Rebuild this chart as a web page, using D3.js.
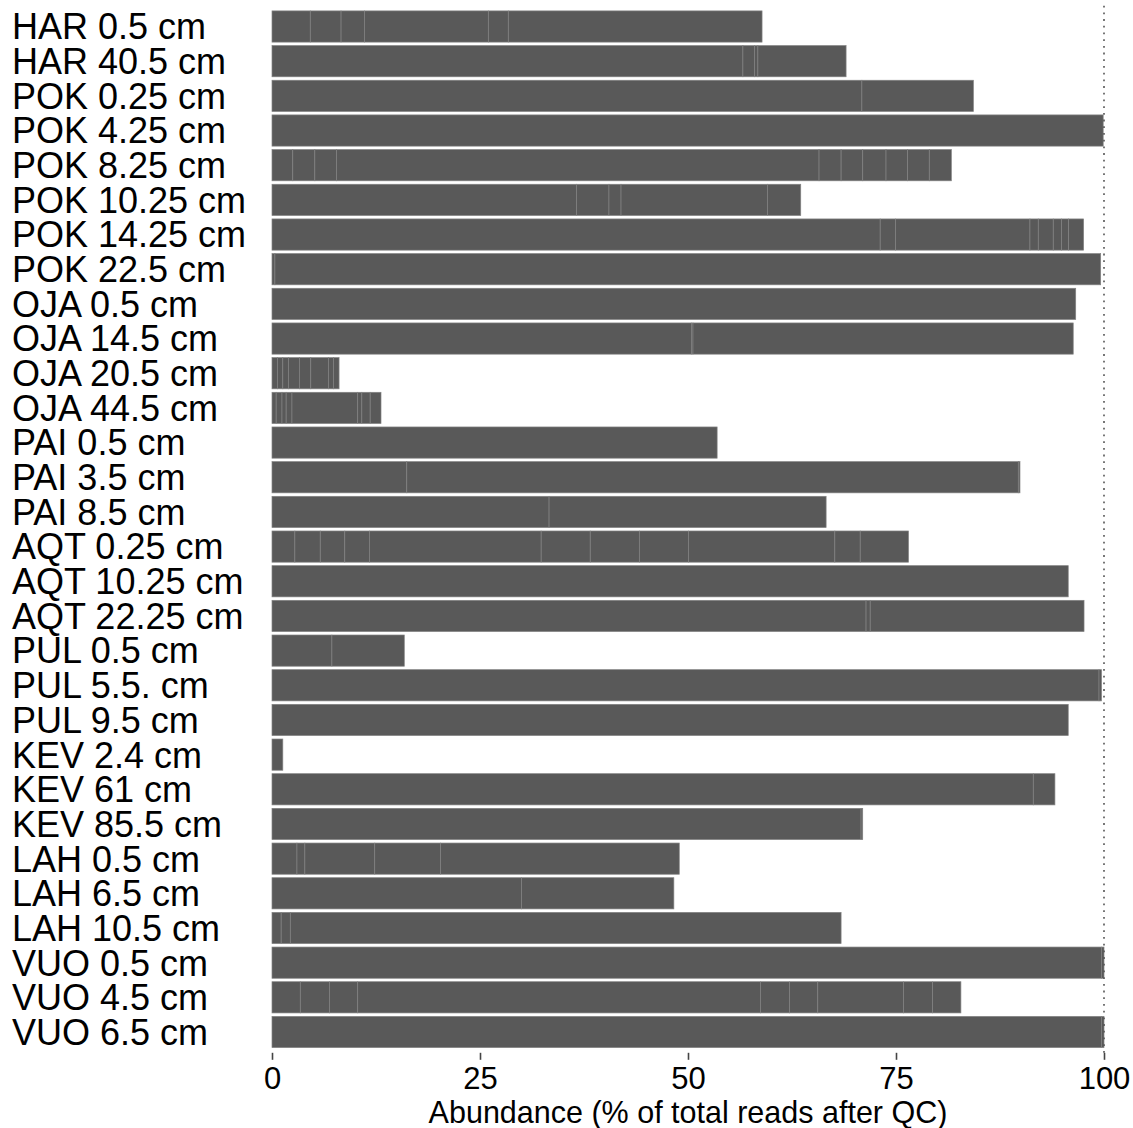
<!DOCTYPE html>
<html>
<head>
<meta charset="utf-8">
<script src="https://cdn.jsdelivr.net/npm/d3@7"></script>
<style>
  html, body { margin: 0; padding: 0; background: #fff; }
  svg { display: block; }
</style>
</head>
<body>
<svg id="chart" width="1133" height="1128"></svg>
<script>
// Sample labels (site + sediment depth), top to bottom
const samples = [
  "HAR 0.5 cm", "HAR 40.5 cm", "POK 0.25 cm", "POK 4.25 cm", "POK 8.25 cm",
  "POK 10.25 cm", "POK 14.25 cm", "POK 22.5 cm", "OJA 0.5 cm", "OJA 14.5 cm",
  "OJA 20.5 cm", "OJA 44.5 cm", "PAI 0.5 cm", "PAI 3.5 cm", "PAI 8.5 cm",
  "AQT 0.25 cm", "AQT 10.25 cm", "AQT 22.25 cm", "PUL 0.5 cm", "PUL 5.5. cm",
  "PUL 9.5 cm", "KEV 2.4 cm", "KEV 61 cm", "KEV 85.5 cm", "LAH 0.5 cm",
  "LAH 6.5 cm", "LAH 10.5 cm", "VUO 0.5 cm", "VUO 4.5 cm", "VUO 6.5 cm"
];

// Abundance of each taxon in a sample (% of total reads after QC), stacked left to right
const abundances = [
  [4.6, 3.7, 2.8, 14.9, 2.4, 30.5],
  [56.6, 1.4, 0.4, 10.6],
  [70.9, 13.4],
  [99.9],
  [2.5, 2.65, 2.6, 58.0, 2.65, 2.6, 2.8, 2.6, 2.6, 2.65],
  [36.6, 3.9, 1.45, 17.6, 4.0],
  [73.1, 1.85, 16.15, 1.0, 1.8, 1.0, 0.85, 1.8],
  [0.35, 99.25],
  [96.6],
  [50.4, 0.2, 45.7],
  [0.65, 0.65, 0.67, 1.32, 1.37, 2.12, 0.6, 0.68],
  [0.5, 0.7, 0.5, 0.7, 7.9, 0.5, 1.0, 1.3],
  [53.5],
  [16.2, 73.5, 0.2],
  [33.3, 33.3],
  [2.75, 3.05, 2.95, 2.95, 20.65, 5.9, 5.9, 5.9, 17.6, 3.05, 5.8],
  [95.7],
  [71.4, 0.5, 25.7],
  [7.2, 8.7],
  [99.4, 0.3],
  [95.7],
  [1.3],
  [91.5, 2.6],
  [70.8, 0.2],
  [3.0, 0.95, 8.4, 7.9, 28.7],
  [30.0, 18.3],
  [1.1, 1.1, 66.2],
  [99.7, 0.3],
  [3.4, 3.5, 3.4, 48.4, 3.5, 3.4, 10.3, 3.5, 3.4],
  [99.7, 0.3]
];

const xTicks = [0, 25, 50, 75, 100];
const xTitle = "Abundance (% of total reads after QC)";

const svg = d3.select("#chart");
const panel = { left: 272, right: 1104, top: 5.7, bottom: 1052.8 };

// Discrete axis with 0.6 band expansion on both ends
const step = (panel.bottom - panel.top) / (samples.length - 1 + 1.2);
const y = d3.scaleBand()
  .domain(samples)
  .range([panel.top + 0.1 * step, panel.bottom - 0.1 * step])
  .paddingInner(0.1)
  .paddingOuter(0.05);

const x = d3.scaleLinear().domain([0, 100]).range([panel.left, panel.right]);

// Flatten stacked segments
const rects = [];
samples.forEach((s, i) => {
  let acc = 0;
  abundances[i].forEach(v => {
    rects.push({ sample: s, x0: acc, x1: acc + v });
    acc += v;
  });
});

svg.append("g")
  .selectAll("rect")
  .data(rects)
  .join("rect")
  .attr("x", d => x(d.x0))
  .attr("width", d => x(d.x1) - x(d.x0))
  .attr("y", d => y(d.sample))
  .attr("height", y.bandwidth())
  .attr("fill", "#595959")
  .attr("stroke", "#828282")
  .attr("stroke-width", 0.7);

// Reference line at 100 %
svg.append("line")
  .attr("x1", x(100)).attr("x2", x(100))
  .attr("y1", panel.top).attr("y2", panel.bottom)
  .attr("stroke", "#555")
  .attr("stroke-width", 1.6)
  .attr("stroke-dasharray", "1.8,4.9");

// Sample labels, left-aligned
const labelSize = 36;
svg.append("g")
  .selectAll("text")
  .data(samples)
  .join("text")
  .attr("x", 12)
  .attr("y", d => y(d) + y.bandwidth() / 2 + labelSize * 0.358)
  .attr("font-family", "Liberation Sans, Arial, sans-serif")
  .attr("font-size", labelSize)
  .attr("fill", "#000")
  .text(d => d);

// X axis: ticks and labels only
const xAxis = d3.axisBottom(x).tickValues(xTicks).tickSize(7).tickPadding(6).tickFormat(d3.format("d"));
const gx = svg.append("g")
  .attr("transform", `translate(0,${panel.bottom})`)
  .call(xAxis);
gx.select(".domain").remove();
gx.selectAll(".tick line").attr("stroke", "#444").attr("stroke-width", 1.6);
gx.selectAll(".tick text")
  .attr("font-family", "Liberation Sans, Arial, sans-serif")
  .attr("font-size", 31)
  .attr("fill", "#000")
  .attr("dy", null)
  .attr("y", 36.5)
  .attr("transform", null);

svg.append("text")
  .attr("x", (panel.left + panel.right) / 2)
  .attr("y", 1123)
  .attr("text-anchor", "middle")
  .attr("font-family", "Liberation Sans, Arial, sans-serif")
  .attr("font-size", 30.5)
  .attr("fill", "#000")
  .text(xTitle);
</script>
</body>
</html>
